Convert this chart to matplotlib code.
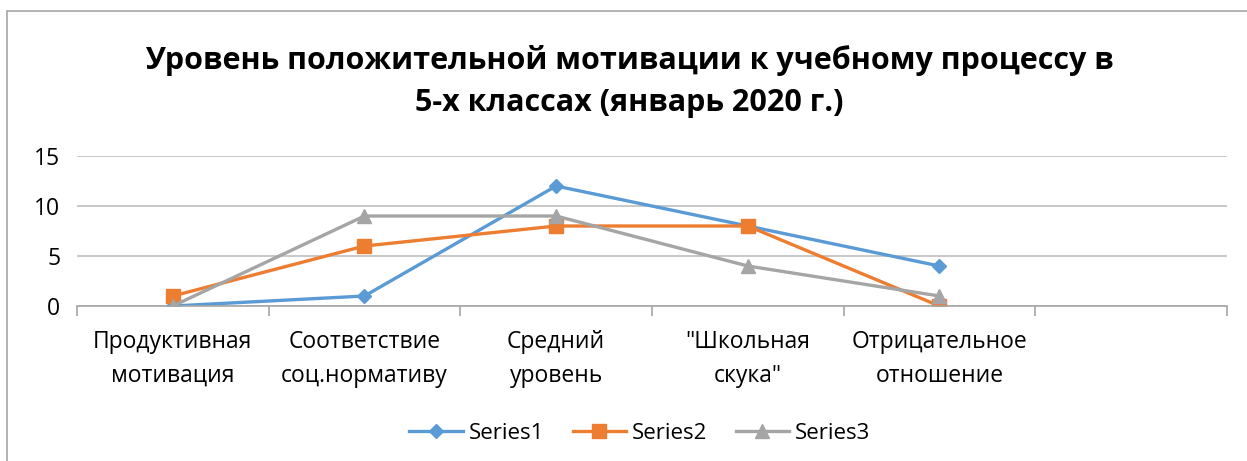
import matplotlib
matplotlib.use("Agg")
import matplotlib.pyplot as plt
from matplotlib.patches import Rectangle

categories = ["Продуктивная\nмотивация", "Соответствие\nсоц.нормативу", "Средний\nуровень",
              "\"Школьная\nскука\"", "Отрицательное\nотношение", ""]
series1 = [0, 1, 12, 8, 4]
series2 = [1, 6, 8, 8, 0]
series3 = [0, 9, 9, 4, 1]
yticks = [0, 5, 10, 15]

plt.rcParams["font.family"] = ["Open Sans", "DejaVu Sans"]

fig = plt.figure(figsize=(12.47, 4.61), dpi=100)
ax = fig.add_axes([0.0617, 0.3362, 0.9222, 0.3254])

# chart area border (cropped at right and bottom)
fig.patches.append(Rectangle((7 / 1247, -0.1), 1.2, 1 - 11 / 461 + 0.1,
                             transform=fig.transFigure, fill=False,
                             edgecolor="#a6a6a6", lw=1.2))

x = list(range(len(series1)))
ax.plot(x, series1, color="#5B9BD5", lw=2.4, marker="D", ms=7.5, label="Series1")
ax.plot(x, series2, color="#ED7D31", lw=2.4, marker="s", ms=10, label="Series2")
ax.plot(x, series3, color="#A5A5A5", lw=2.4, marker="^", ms=10.5, label="Series3")

ax.set_xlim(-0.5, len(categories) - 0.5)
ax.set_ylim(0, 15)
ax.set_yticks(yticks)
ax.yaxis.grid(True, color="#bfbfbf", lw=1.2)
ax.set_axisbelow(True)

ax.set_xticks([i - 0.5 for i in range(len(categories) + 1)])
ax.set_xticklabels([])
ax.set_xticks(range(len(categories)), minor=True)
ax.set_xticklabels(categories, minor=True, fontsize=16.5, linespacing=1.55)
ax.tick_params(axis="x", which="major", length=7, color="#a6a6a6", width=1.2)
ax.tick_params(axis="x", which="minor", length=0, pad=17)
ax.tick_params(axis="y", length=0, labelsize=16.5, pad=12)

for side in ["left", "right", "top"]:
    ax.spines[side].set_visible(False)
ax.spines["bottom"].set_color("#a6a6a6")
ax.spines["bottom"].set_linewidth(1.2)

fig.text(0.505, 0.823, "Уровень положительной мотивации к учебному процессу в\n5-х классах (январь 2020 г.)",
         ha="center", va="center", fontsize=22, fontweight="bold", linespacing=1.5)

ax.legend(loc="center", bbox_to_anchor=(0.513, 0.06), bbox_transform=fig.transFigure,
          ncol=3, frameon=False, fontsize=16, handlelength=2.4, columnspacing=1.3,
          handletextpad=0.25)

fig.savefig("out.png", dpi=100)
